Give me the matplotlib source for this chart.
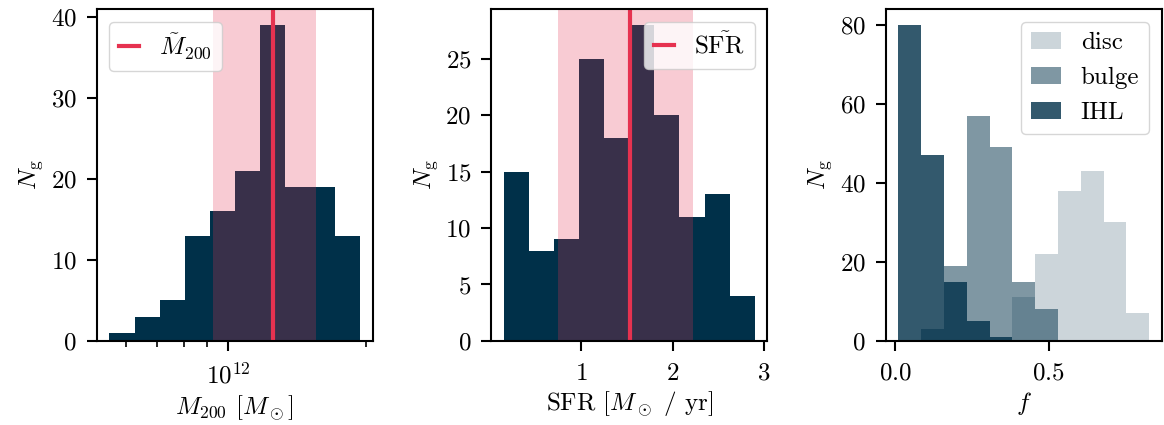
import numpy as np
import matplotlib
matplotlib.use("Agg")
import matplotlib.pyplot as plt
from matplotlib.ticker import NullFormatter

plt.rcParams["font.family"] = ["cmr10", "DejaVu Serif"]
plt.rcParams["mathtext.fontset"] = "cm"
plt.rcParams["axes.formatter.use_mathtext"] = True
plt.rcParams["font.size"] = 18
plt.rcParams["axes.linewidth"] = 1.5
plt.rcParams["xtick.major.size"] = 7.5
plt.rcParams["ytick.major.size"] = 7.5
plt.rcParams["xtick.major.width"] = 1.5
plt.rcParams["ytick.major.width"] = 1.5
plt.rcParams["xtick.minor.size"] = 4
plt.rcParams["xtick.minor.width"] = 1.2
plt.rcParams["xtick.major.pad"] = 8
plt.rcParams["ytick.major.pad"] = 7

navy = "#003049"
red = "#e63250"

# M200 histogram (log10 bin edges, counts)
m200_log_edges = np.linspace(11.741, 12.289, 11)
m200_counts = [1, 3, 5, 13, 16, 21, 39, 19, 19, 13]
m200_median_log = 12.098
m200_band_log = (11.968, 12.192)

# SFR histogram
sfr_edges = np.linspace(0.157, 2.898, 11)
sfr_counts = [15, 8, 9, 25, 18, 28, 20, 11, 13, 4]
sfr_median = 1.531
sfr_band = (0.751, 2.22)

# component fractions
f_edges = np.linspace(0.0107, 0.8276, 12)
disc_counts = [0, 0, 0, 0, 0, 11, 22, 38, 43, 30, 7]
bulge_counts = [0, 3, 19, 57, 49, 15, 8, 0, 0, 0, 0]
ihl_counts = [80, 47, 15, 5, 1, 0, 0, 0, 0, 0, 0]

fig, axes = plt.subplots(1, 3, figsize=(11.64, 4.25), dpi=100)
fig.subplots_adjust(left=0.0833, right=0.998, bottom=0.198, top=0.978, wspace=0.43)

# Panel 1: halo mass
ax = axes[0]
m200_edges = 10 ** m200_log_edges
ax.hist(m200_edges[:-1], bins=m200_edges, weights=m200_counts, color=navy)
ax.set_xscale("log")
ax.xaxis.set_minor_formatter(NullFormatter())
ax.axvspan(10 ** m200_band_log[0], 10 ** m200_band_log[1], color=red, alpha=0.25, lw=0)
ax.axvline(10 ** m200_median_log, color=red, lw=3, label=r"$\tilde{M}_{200}$")
ax.set_xlabel(r"$M_{200}$ [$M_\odot$]")
ax.set_ylabel(r"$N_{\rm g}$")
ax.legend(loc="upper left", handlelength=0.8)

# Panel 2: star formation rate
ax = axes[1]
ax.hist(sfr_edges[:-1], bins=sfr_edges, weights=sfr_counts, color=navy)
ax.axvspan(sfr_band[0], sfr_band[1], color=red, alpha=0.25, lw=0)
ax.axvline(sfr_median, color=red, lw=3, label=r"$\tilde{\mathrm{SFR}}$")
ax.set_xticks([1, 2, 3])
ax.set_xlabel(r"SFR [$M_\odot$ / yr]")
ax.set_ylabel(r"$N_{\rm g}$")
ax.legend(loc="upper right", handlelength=0.8)

# Panel 3: fractions
ax = axes[2]
ax.hist(f_edges[:-1], bins=f_edges, weights=disc_counts, color=navy, alpha=0.2, label="disc")
ax.hist(f_edges[:-1], bins=f_edges, weights=bulge_counts, color=navy, alpha=0.5, label="bulge")
ax.hist(f_edges[:-1], bins=f_edges, weights=ihl_counts, color=navy, alpha=0.8, label="IHL")
ax.set_xticks([0.0, 0.5])
ax.set_yticks([0, 20, 40, 60, 80])
ax.set_xlabel(r"$f$")
ax.set_ylabel(r"$N_{\rm g}$")
ax.legend(loc="upper right", handlelength=1.2)

fig.savefig("out.png", dpi=100)
